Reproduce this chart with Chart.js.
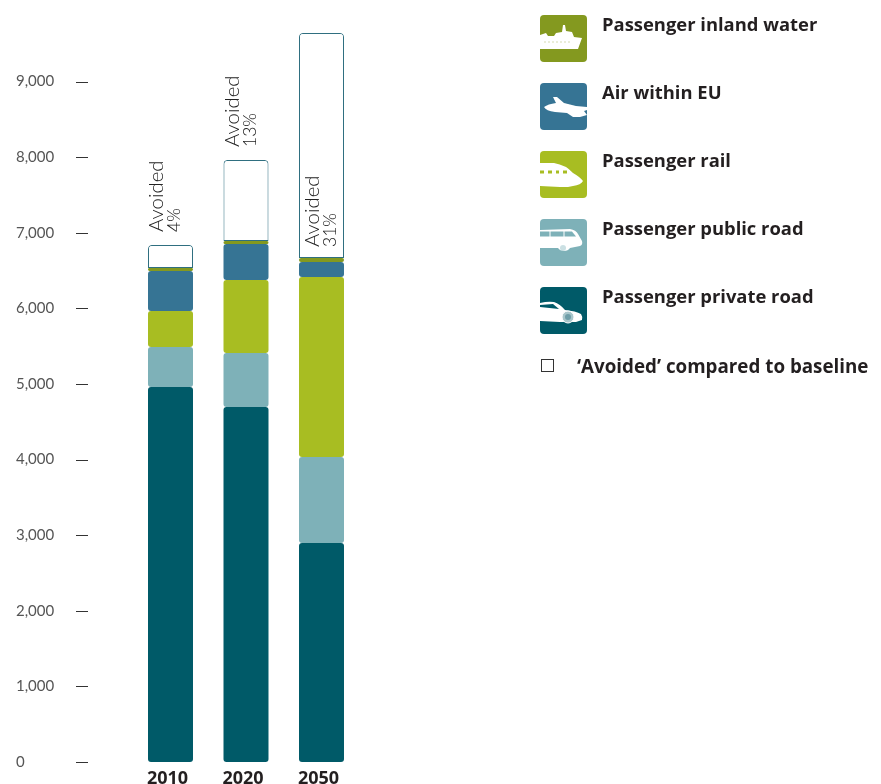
<!DOCTYPE html>
<html>
<head>
<meta charset="utf-8">
<title>Passenger transport</title>
<script src="https://cdn.jsdelivr.net/npm/chart.js@4/dist/chart.umd.min.js"></script>
<style>
  body { margin: 0; background: #fff; }
  #wrap { position: relative; width: 881px; height: 784px; overflow: hidden; }
  canvas { position: absolute; left: 0; top: 0; }
  .key { position: absolute; left: 540px; width: 47px; height: 47px; }
  .key svg { display: block; }
  .key-label, .avoided-label {
    position: absolute; color: #231f20; white-space: nowrap;
    font: 700 18.4px "Open Sans", sans-serif; line-height: 20px;
  }
  .key-label { left: 62px; top: -1px; }
  .avoided-box { position: absolute; left: 541px; top: 359px; width: 11px; height: 11px; border: 1px solid #333; }
  .avoided-label { left: 577px; top: 356px; font-size: 18.8px; }
</style>
</head>
<body>
<div id="wrap">
  <canvas id="chart" width="881" height="784"></canvas>
  <div id="legend"></div>
</div>
<script>
const years = ['2010', '2020', '2050'];
const privateRoad = [4960, 4696, 2897];
const publicRoad = [530, 714, 1137];
const rail = [476, 966, 2381];
const airEU = [529, 476, 199];
const inlandWater = [39, 40, 53];
const avoided = [305, 1071, 2976];
const avoidedPct = ['4%', '13%', '31%'];
const yTicks = [0, 1000, 2000, 3000, 4000, 5000, 6000, 7000, 8000, 9000];

const colors = {
  water: '#84991f',
  air: '#367494',
  rail: '#a8bd22',
  publicRoad: '#7eb1b8',
  privateRoad: '#005a68'
};

const square = { topLeft: 3, topRight: 3, bottomLeft: 3, bottomRight: 3 };

function stackBar(label, data, color) {
  return { label, data, backgroundColor: color, borderWidth: 0, borderRadius: square, borderSkipped: false };
}

// little tick dashes sit away from the bars, next to the value labels
const tickDashes = {
  id: 'tickDashes',
  afterDraw(chart) {
    const ctx = chart.ctx;
    const y = chart.scales.y;
    ctx.save();
    ctx.strokeStyle = '#333';
    ctx.lineWidth = 1;
    yTicks.forEach(v => {
      const py = Math.round(y.getPixelForValue(v)) + 0.5;
      ctx.beginPath();
      ctx.moveTo(76, py);
      ctx.lineTo(88, py);
      ctx.stroke();
    });
    ctx.restore();
  }
};

// rotated "Avoided / n%" notes, above the white box or inside it when it is tall
const avoidedNotes = {
  id: 'avoidedNotes',
  afterDatasetsDraw(chart) {
    const ctx = chart.ctx;
    const meta = chart.getDatasetMeta(5);
    ctx.save();
    ctx.fillStyle = '#222';
    ctx.textAlign = 'left';
    ctx.textBaseline = 'middle';
    meta.data.forEach((bar, i) => {
      const inside = i === 2;
      const bottom = inside ? bar.base - 11 : bar.y - 13;
      const left = bar.x - bar.width / 2;
      ctx.save();
      ctx.translate(left + (inside ? 13 : 8.5), bottom);
      ctx.rotate(-Math.PI / 2);
      ctx.font = '300 20.4px Lato, sans-serif';
      ctx.fillText('Avoided', 0, 0);
      ctx.font = '300 17.5px Lato, sans-serif';
      ctx.fillText(avoidedPct[i], 0, 18);
      ctx.restore();
    });
    ctx.restore();
  }
};

new Chart(document.getElementById('chart'), {
  type: 'bar',
  data: {
    labels: years,
    datasets: [
      stackBar('Passenger private road', privateRoad, colors.privateRoad),
      stackBar('Passenger public road', publicRoad, colors.publicRoad),
      stackBar('Passenger rail', rail, colors.rail),
      stackBar('Air within EU', airEU, colors.air),
      stackBar('Passenger inland water', inlandWater, colors.water),
      {
        label: "'Avoided' compared to baseline",
        data: avoided,
        backgroundColor: '#fff',
        borderColor: '#2f6f80',
        borderWidth: 1,
        borderRadius: { topLeft: 4, topRight: 4, bottomLeft: 0, bottomRight: 0 },
        borderSkipped: false
      }
    ]
  },
  options: {
    responsive: false,
    animation: false,
    barPercentage: 0.596,
    categoryPercentage: 1,
    layout: { padding: { left: 16, top: 0, right: 521.75, bottom: 0 } },
    plugins: { legend: { display: false }, tooltip: { enabled: false } },
    scales: {
      x: {
        stacked: true,
        grid: { display: false },
        border: { display: false },
        afterFit(axis) { axis.height = 22; },
        ticks: {
          color: '#231f20',
          padding: -2,
          labelOffset: -3,
          maxRotation: 0,
          font: { family: '"Open Sans", sans-serif', size: 18, weight: '700' }
        }
      },
      y: {
        stacked: true,
        min: 0,
        max: 9921,
        grid: { display: false },
        border: { display: false },
        afterFit(axis) { axis.width = 116.75; },
        afterBuildTicks(axis) { axis.ticks = yTicks.map(value => ({ value })); },
        ticks: {
          crossAlign: 'far',
          color: '#555',
          font: { family: 'Lato, sans-serif', size: 15, weight: '400' },
          callback: v => v.toLocaleString('en-US')
        }
      }
    }
  },
  plugins: [tickDashes, avoidedNotes]
});

// legend keys: white vehicle silhouettes on coloured squares
const legendNames = ['Passenger inland water', 'Air within EU', 'Passenger rail', 'Passenger public road', 'Passenger private road'];
const legendColors = [colors.water, colors.air, colors.rail, colors.publicRoad, colors.privateRoad];
const legendTops = [15, 83, 151, 219, 287];
const legendIcons = [
  // ship
  '<path fill="#fff" d="M0 20L6 18L8 21L14 21L16 18L22 17L23 10L25 10L26 16L32 17L34 22L42 23L38 34L0 34Z"/>'
    + '<path stroke="C" stroke-opacity=".35" stroke-width="1" stroke-dasharray="2 2" d="M4 27L32 27"/>',
  // plane
  '<path fill="#fff" d="M4 24Q8 21 16 20L13 14L17 14L24 20L36 23L47 24L47 27L44 28L47 32L40 34L33 34L27 30L15 29Q6 28 4 24Z"/>',
  // train
  '<path fill="#fff" d="M0 12L14 12Q26 14 33 22Q40 26 43 30Q41 34 33 35L28 36L20 36L0 35Z"/>'
    + '<path stroke="C" stroke-width="3" d="M0 21L4 21M8 21L12 21M16 21L19 21M23 21L27 21"/>',
  // bus
  '<path fill="#fff" d="M0 11L30 10Q36 11 38 15L42 22Q43 26 40 27L30 29Q28 32 24 32Q20 32 18 29L0 29Z"/>'
    + '<path fill="C" d="M0 12.5L32 12.5L36 17.5L0 17.5Z"/><path stroke="#fff" d="M10 12L10 18M24 12L24 18"/>'
    + '<circle cx="23" cy="29" r="3" fill="C" fill-opacity=".4"/>',
  // car
  '<path fill="#fff" d="M0 16Q8 14 14 15Q20 17 25 23Q36 24 41 27Q43 30 42 33L36 35L20 35L0 34Z"/>'
    + '<path fill="C" d="M0 18L13 17L19 22L0 20Z"/>'
    + '<circle cx="28" cy="30" r="6" fill="#a9c6cb" stroke="#fff"/><circle cx="28" cy="30" r="3" fill="#6f9ea8"/>'
];

const legend = document.getElementById('legend');
legendNames.forEach((name, i) => {
  const key = document.createElement('div');
  key.className = 'key';
  key.style.top = legendTops[i] + 'px';
  key.innerHTML = '<svg width="47" height="47" viewBox="0 0 47 47"><clipPath id="c' + i + '"><rect width="47" height="47" rx="4"/></clipPath>'
    + '<g clip-path="url(#c' + i + ')"><rect width="47" height="47" fill="' + legendColors[i] + '"/>'
    + legendIcons[i].replace(/"C"/g, '"' + legendColors[i] + '"') + '</g></svg>';
  const text = document.createElement('div');
  text.className = 'key-label';
  text.textContent = name;
  key.appendChild(text);
  legend.appendChild(key);
});
const box = document.createElement('div');
box.className = 'avoided-box';
legend.appendChild(box);
const boxLabel = document.createElement('div');
boxLabel.className = 'avoided-label';
boxLabel.textContent = '‘Avoided’ compared to baseline';
legend.appendChild(boxLabel);
</script>
</body>
</html>
